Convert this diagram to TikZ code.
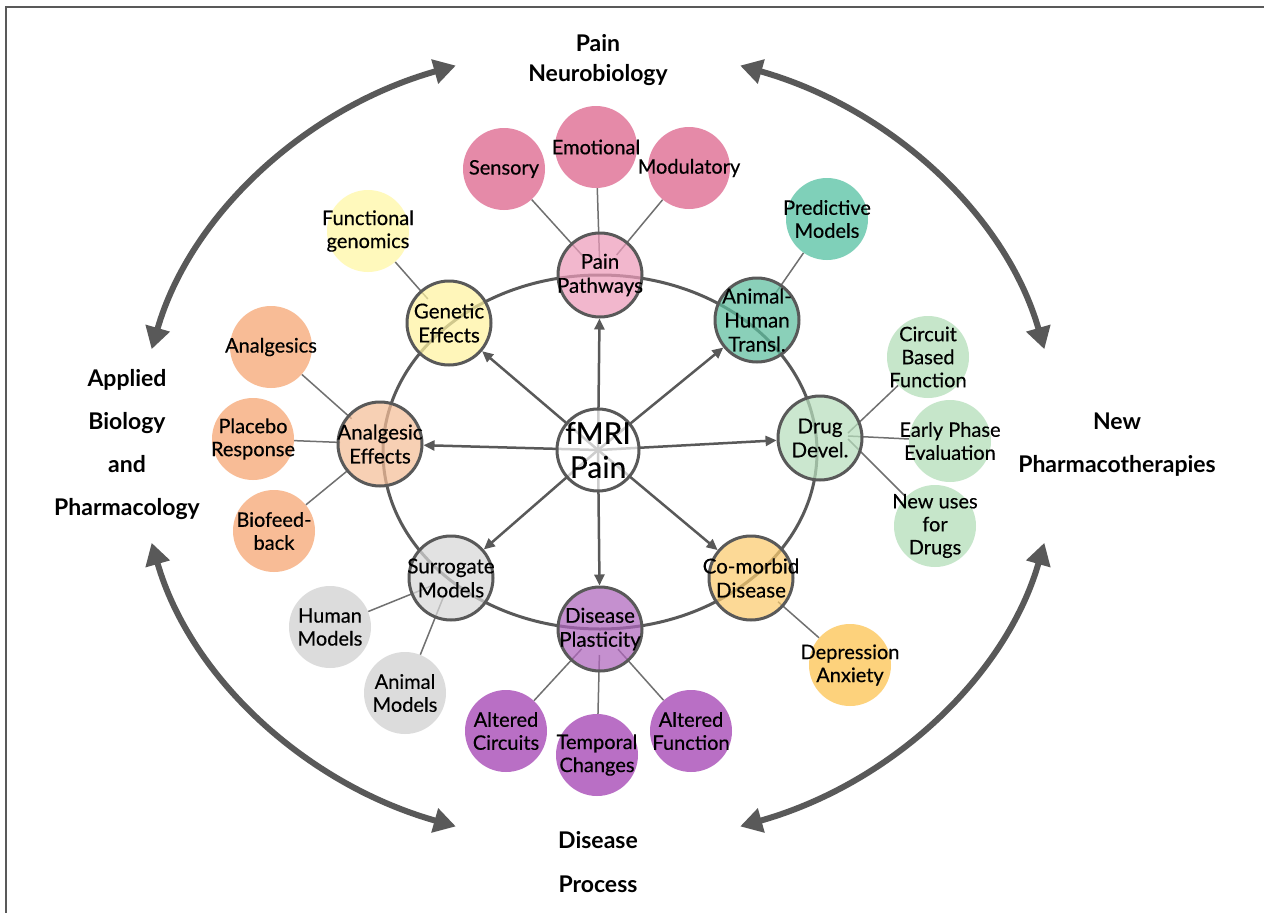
\documentclass[tikz,border=0pt]{standalone}
\usepackage{fontspec}
\setmainfont{Lato}
\newfontfamily\medfont[FakeBold=0.35]{Lato}
\usepackage{tikz}
\usetikzlibrary{arrows.meta, calc, backgrounds}
\definecolor{darkline}{HTML}{595959}
\definecolor{linkline}{HTML}{707070}
\definecolor{pinkleaf}{HTML}{E58AA8}
\definecolor{pinktopic}{HTML}{EE9CBB}
\definecolor{yellowleaf}{HTML}{FFF9BC}
\definecolor{yellowtopic}{HTML}{FFF3A0}
\definecolor{tealleaf}{HTML}{7FD0B9}
\definecolor{tealtopic}{HTML}{5EBF9F}
\definecolor{orangeleaf}{HTML}{F8BC96}
\definecolor{orangetopic}{HTML}{F5BE98}
\definecolor{greenleaf}{HTML}{C6E6CA}
\definecolor{greentopic}{HTML}{B8DFBD}
\definecolor{grayleaf}{HTML}{DCDCDC}
\definecolor{graytopic}{HTML}{D8D8D8}
\definecolor{goldleaf}{HTML}{FDD27C}
\definecolor{goldtopic}{HTML}{FBCB6E}
\definecolor{purpleleaf}{HTML}{B96FC5}
\definecolor{purpletopic}{HTML}{B066BD}
\tikzstyle{hub} = [circle, minimum size=82pt, inner sep=0pt, draw=darkline, line width=3pt, fill=white, fill opacity=0.7]
\tikzstyle{topic} = [circle, minimum size=84pt, inner sep=0pt, draw=darkline, line width=3pt, fill opacity=0.72]
\tikzstyle{leaf} = [circle, minimum size=82pt, inner sep=0pt]
\tikzstyle{hubtext} = [align=center, inner sep=0pt, fill opacity=1, text opacity=1, font=\medfont\fontsize{30}{34}\selectfont]
\tikzstyle{topictext} = [align=center, inner sep=0pt, fill opacity=1, text opacity=1, font=\medfont\fontsize{20.5}{24}\selectfont]
\tikzstyle{leaftext} = [align=center, inner sep=0pt, font=\medfont\fontsize{20}{23}\selectfont]
\tikzstyle{area} = [align=center, inner sep=0pt, font=\bfseries\fontsize{23}{30}\selectfont]
\tikzstyle{arrow} = [line width=2.5pt, draw=darkline, -{Triangle[length=11pt,width=10pt]}]
\tikzstyle{link} = [line width=1.5pt, draw=linkline]
\tikzstyle{bigarrow} = [line width=6pt, draw=darkline, {Triangle[length=22pt,width=24pt]}-{Triangle[length=22pt,width=24pt]}]

\begin{document}
\begin{tikzpicture}[x=1pt, y=-1pt]
\useasboundingbox (0,0) rectangle (1264,913);
\draw[line width=1.5pt, darkline] (6,913) -- (6,7) -- (1264,7);

% centre and the eight topics
\node (fmri) [hub, label={[hubtext]center:{fMRI\\Pain}}] at (598,450) {};
\node (pp) [topic, fill=pinktopic, label={[topictext]center:{Pain\\Pathways}}] at (600,275) {};
\node (ge) [topic, fill=yellowtopic, label={[topictext]center:{Genetic\\Effects}}] at (449,323) {};
\node (ah) [topic, fill=tealtopic, label={[topictext]center:{Animal-\\Human\\Transl.}}] at (757,320) {};
\node (ae) [topic, fill=orangetopic, label={[topictext]center:{Analgesic\\Effects}}] at (380,444) {};
\node (dd) [topic, fill=greentopic, label={[topictext]center:{Drug\\Devel.}}] at (820,438) {};
\node (sm) [topic, fill=graytopic, label={[topictext]center:{Surrogate\\Models}}] at (451,578) {};
\node (cd) [topic, fill=goldtopic, label={[topictext]center:{Co-morbid\\Disease}}] at (751,578) {};
\node (dp) [topic, fill=purpletopic, label={[topictext]center:{Disease\\Plasticity}}] at (600,629) {};

% leaves
\node (sens) [leaf, fill=pinkleaf, label={[leaftext]center:Sensory}] at (504,169) {};
\node (emo) [leaf, fill=pinkleaf, label={[leaftext]center:Emotional}] at (596,147) {};
\node (mod) [leaf, fill=pinkleaf, label={[leaftext]center:Modulatory}] at (689,168) {};
\node (fg) [leaf, fill=yellowleaf, label={[leaftext]center:{Functional\\genomics}}] at (368,231) {};
\node (pm) [leaf, fill=tealleaf, label={[leaftext]center:{Predictive\\Models}}] at (827,219) {};
\node (anl) [leaf, fill=orangeleaf, label={[leaftext]center:Analgesics}] at (271,347) {};
\node (plc) [leaf, fill=orangeleaf, label={[leaftext]center:{Placebo\\Response}}] at (253,439) {};
\node (bio) [leaf, fill=orangeleaf, label={[leaftext]center:{Biofeed-\\back}}] at (274,531) {};
\node (cbf) [leaf, fill=greenleaf, label={[leaftext]center:{Circuit\\Based\\Function}}] at (928,357) {};
\node (epe) [leaf, fill=greenleaf, label={[leaftext]center:{Early Phase\\Evaluation}}] at (950,441) {};
\node (nud) [leaf, fill=greenleaf, label={[leaftext]center:{New uses\\for\\Drugs}}] at (935,526) {};
\node (hm) [leaf, fill=grayleaf, label={[leaftext]center:{Human\\Models}}] at (330,627) {};
\node (am) [leaf, fill=grayleaf, label={[leaftext]center:{Animal\\Models}}] at (405,693) {};
\node (da) [leaf, fill=goldleaf, label={[leaftext]center:{Depression\\Anxiety}}] at (850,665) {};
\node (ac) [leaf, fill=purpleleaf, label={[leaftext]center:{Altered\\Circuits}}] at (506,731) {};
\node (tc) [leaf, fill=purpleleaf, label={[leaftext]center:{Temporal\\Changes}}] at (597,755) {};
\node (af) [leaf, fill=purpleleaf, label={[leaftext]center:{Altered\\Function}}] at (691,731) {};

% outer areas
\node (neuro) [area] at (598,60) {Pain\\Neurobiology};
\node (applied) [area, font=\bfseries\fontsize{23}{43}\selectfont] at (127,445) {Applied\\Biology\\and\\Pharmacology};
\node (newph) [area, font=\bfseries\fontsize{23}{43}\selectfont] at (1117,445) {New\\Pharmacotherapies};
\node (disproc) [area, font=\bfseries\fontsize{23}{44}\selectfont] at (598,862) {Disease\\Process};

\coordinate (mid) at (598,446);
\coordinate (tl) at ($(mid)+(166:460pt and 400pt)$);
\coordinate (tr) at ($(mid)+(72:460pt and 400pt)$);
\coordinate (br) at ($(mid)+(-14:460pt and 400pt)$);
\coordinate (bl) at ($(mid)+(-108:460pt and 400pt)$);
\draw[bigarrow] (tl) arc[start angle=166, end angle=108, x radius=460pt, y radius=400pt];
\draw[bigarrow] (tr) arc[start angle=72, end angle=14, x radius=460pt, y radius=400pt];
\draw[bigarrow] (br) arc[start angle=-14, end angle=-72, x radius=460pt, y radius=400pt];
\draw[bigarrow] (bl) arc[start angle=-108, end angle=-166, x radius=460pt, y radius=400pt];

\begin{scope}[on background layer]
\fill[white] (0,0) rectangle (1264,913);
\draw[darkline, line width=3pt] (600,452) ellipse [x radius=217pt, y radius=177pt];
\foreach \t in {pp,ge,ah,ae,dd,sm,cd,dp}
  \draw[arrow] (fmri.center) -- (\t);
\draw[link] (sens) -- ($(pp.center)!20pt!(sens.center)$);
\draw[link] (emo) -- ($(pp.center)!12pt!(emo.center)$);
\draw[link] (mod) -- ($(pp.center)!26pt!(mod.center)$);
\draw[link] (fg) -- ($(ge.center)!32pt!(fg.center)$);
\draw[link] (pm) -- ($(ah.center)!30pt!(pm.center)$);
\draw[link] (anl) -- ($(ae.center)!38pt!(anl.center)$);
\draw[link] (plc) -- ($(ae.center)!40pt!(plc.center)$);
\draw[link] (bio) -- ($(ae.center)!40pt!(bio.center)$);
\draw[link] (cbf) -- (848,433);
\draw[link] (epe) -- (848,436);
\draw[link] (nud) -- (848,439);
\draw[link] (hm) -- ($(sm.center)!18pt!(hm.center)$);
\draw[link] (am) -- ($(sm.center)!20pt!(am.center)$);
\draw[link] (da) -- ($(cd.center)!36pt!(da.center)$);
\draw[link] (ac) -- ($(dp.center)!27pt!(ac.center)$);
\draw[link] (tc) -- ($(dp.center)!26pt!(tc.center)$);
\draw[link] (af) -- ($(dp.center)!27pt!(af.center)$);
\end{scope}
\end{tikzpicture}
\end{document}
